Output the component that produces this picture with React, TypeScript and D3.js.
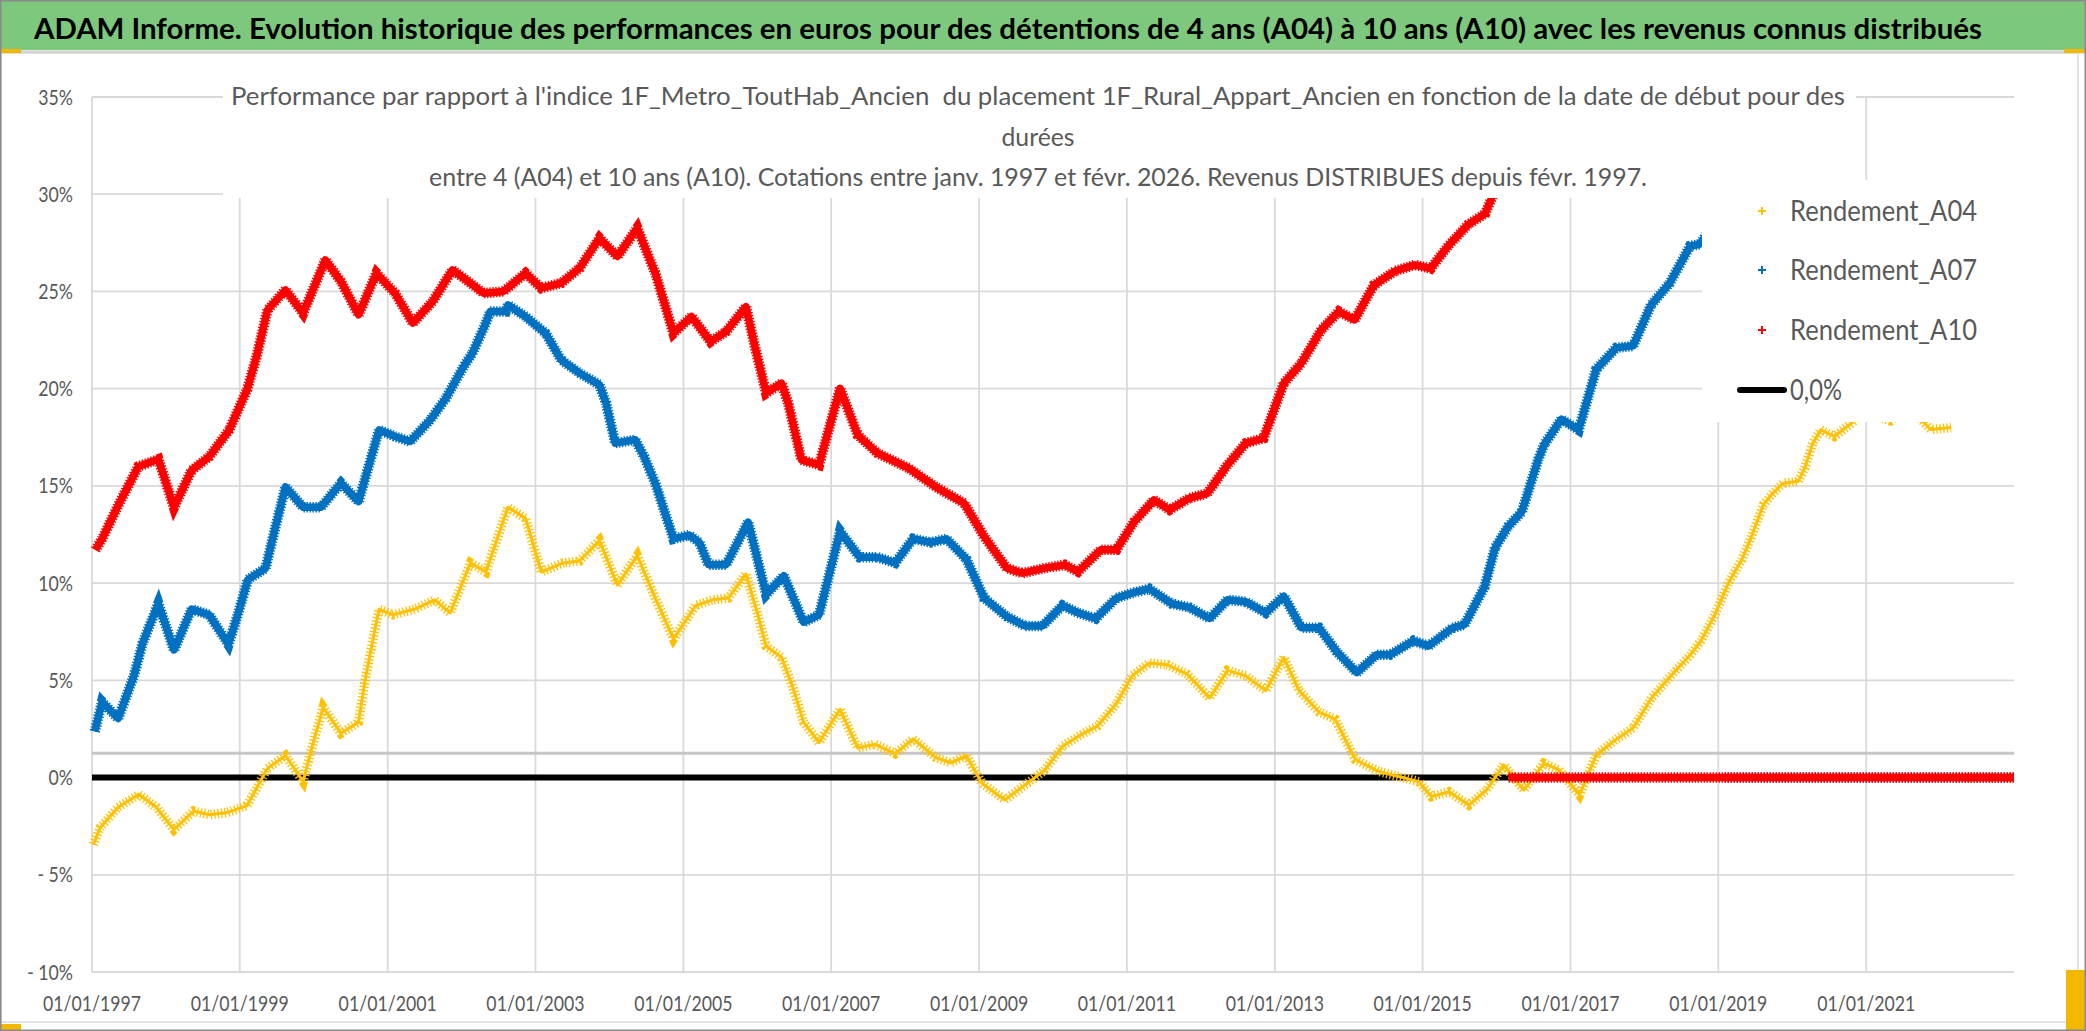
import React from "react";
import * as d3 from "d3";

const W = 2086;
const H = 1031;

const TITLE = "ADAM Informe. Evolution historique des performances en euros pour des détentions de 4 ans (A04) à 10 ans (A10) avec les revenus connus distribués";
const SUBTITLE = [
  "Performance par rapport à l'indice 1F_Metro_ToutHab_Ancien  du placement 1F_Rural_Appart_Ancien en fonction de la date de début pour des",
  "durées",
  "entre 4 (A04) et 10 ans (A10). Cotations entre janv. 1997 et févr. 2026. Revenus DISTRIBUES depuis févr. 1997.",
];
const SERIES_NAMES = ["Rendement_A04", "Rendement_A07", "Rendement_A10"];
const ZERO_NAME = "0,0%";

const X_TICKS = ["1997-01-01", "1999-01-01", "2001-01-01", "2003-01-01", "2005-01-01", "2007-01-01", "2009-01-01", "2011-01-01", "2013-01-01", "2015-01-01", "2017-01-01", "2019-01-01", "2021-01-01"];
const Y_TICKS = [-10, -5, 0, 5, 10, 15, 20, 25, 30, 35];
const X_DOMAIN = ["1997-01-01", "2023-01-01"];
const Y_DOMAIN = [-10, 35];
const ZERO_VALUE = 0;
const GRAY_LEVEL = 1.25;

type Pt = [string, number | null];

const A04: Pt[] = [
  ["1997-01-08", -3.44], ["1997-02-10", -2.58], ["1997-05-10", -1.53], ["1997-08-20", -0.86], ["1997-11-15", -1.53],
  ["1998-02-10", -2.68], ["1998-05-18", -1.72], ["1998-08-03", -1.91], ["1998-10-30", -1.8], ["1999-02-06", -1.44],
  ["1999-05-18", 0.47], ["1999-08-15", 1.13], ["1999-11-10", -0.2], ["1999-12-25", 1.6], ["2000-02-17", 3.61],
  ["2000-05-15", 2.28], ["2000-08-10", 2.85], ["2000-09-12", 5.04], ["2000-11-06", 8.0], ["2000-11-20", 8.66],
  ["2001-01-26", 8.37], ["2001-05-15", 8.66], ["2001-08-22", 9.14], ["2001-11-06", 8.47], ["2002-02-14", 11.04],
  ["2002-05-01", 10.57], ["2002-08-18", 13.9], ["2002-11-13", 13.33], ["2003-01-30", 10.57], ["2003-05-18", 11.04],
  ["2003-08-07", 11.14], ["2003-11-13", 12.19], ["2004-02-10", 9.9], ["2004-05-18", 11.42], ["2004-08-15", 9.23],
  ["2004-11-13", 7.13], ["2005-03-03", 8.85], ["2005-05-26", 9.14], ["2005-08-11", 9.23], ["2005-11-06", 10.47],
  ["2006-01-01", 8.47], ["2006-02-14", 6.75], ["2006-05-01", 6.18], ["2006-06-25", 4.66], ["2006-08-18", 2.85],
  ["2006-11-02", 1.8], ["2007-02-14", 3.51], ["2007-05-12", 1.52], ["2007-08-07", 1.71], ["2007-11-13", 1.23],
  ["2008-02-10", 1.99], ["2008-05-30", 1.04], ["2008-08-15", 0.75], ["2008-10-30", 1.13], ["2009-01-15", -0.29],
  ["2009-05-08", -1.15], ["2009-08-15", -0.39], ["2009-11-20", 0.37], ["2010-02-17", 1.61], ["2010-05-15", 2.18],
  ["2010-08-10", 2.66], ["2010-11-10", 3.8], ["2011-01-26", 5.23], ["2011-04-22", 5.89], ["2011-07-20", 5.8],
  ["2011-10-26", 5.32], ["2012-02-14", 4.09], ["2012-05-12", 5.51], ["2012-08-11", 5.23], ["2012-11-17", 4.47],
  ["2013-02-14", 6.18], ["2013-05-01", 4.47], ["2013-08-07", 3.37], ["2013-10-26", 3.0], ["2014-02-03", 0.92],
  ["2014-05-26", 0.33], ["2014-08-18", 0.09], ["2014-10-12", -0.04], ["2014-12-13", -0.21], ["2015-02-14", -0.98],
  ["2015-05-12", -0.73], ["2015-08-18", -1.41], ["2015-11-13", -0.64], ["2016-02-06", 0.65], ["2016-05-15", -0.64],
  ["2016-08-22", 0.73], ["2016-11-06", 0.39], ["2017-02-14", -0.9], ["2017-05-08", 1.16], ["2017-08-03", 1.88],
  ["2017-11-06", 2.55], ["2018-02-06", 4.1], ["2018-05-18", 5.3], ["2018-08-15", 6.3], ["2018-10-08", 7.04],
  ["2018-12-13", 8.33], ["2019-02-20", 10.0], ["2019-04-27", 11.2], ["2019-06-14", 12.39], ["2019-08-11", 14.02],
  ["2019-09-20", 14.54], ["2019-11-17", 15.14], ["2020-01-30", 15.22], ["2020-03-03", 15.91], ["2020-04-12", 17.2],
  ["2020-05-22", 17.88], ["2020-07-27", 17.54], ["2020-10-20", 18.22], ["2020-12-13", 18.8], ["2021-03-15", 18.5],
  ["2021-05-01", 18.35], ["2021-07-20", 19.0], ["2021-10-01", 18.4], ["2021-11-15", 17.9], ["2022-02-24", 18.0],
  ["2022-03-01", null],
  ["2022-03-15", 0], ["2022-06-15", 0], ["2022-09-15", 0], ["2022-12-31", 0],
];

const A07: Pt[] = [
  ["1997-01-15", 2.37], ["1997-02-20", 3.89], ["1997-05-10", 3.04], ["1997-07-27", 5.23], ["1997-09-09", 6.94],
  ["1997-11-25", 8.94], ["1998-02-10", 6.56], ["1998-05-08", 8.66], ["1998-08-03", 8.37], ["1998-11-06", 6.85],
  ["1998-12-25", 8.47], ["1999-02-10", 10.18], ["1999-05-08", 10.76], ["1999-06-21", 12.66], ["1999-08-15", 14.95],
  ["1999-11-10", 13.9], ["2000-02-06", 13.9], ["2000-05-15", 15.14], ["2000-08-10", 14.19], ["2000-10-04", 16.2],
  ["2000-11-20", 17.88], ["2001-02-06", 17.54], ["2001-04-22", 17.28], ["2001-07-31", 18.4], ["2001-10-15", 19.5],
  ["2002-01-11", 21.14], ["2002-02-24", 21.83], ["2002-05-01", 23.37], ["2002-05-22", 23.97], ["2002-08-07", 23.97],
  ["2002-08-18", 24.31], ["2002-11-13", 23.71], ["2003-02-20", 22.85], ["2003-05-08", 21.48], ["2003-08-07", 20.8],
  ["2003-11-13", 20.2], ["2003-12-16", 19.25], ["2004-01-30", 17.2], ["2004-05-08", 17.37], ["2004-06-21", 16.5],
  ["2004-08-15", 15.14], ["2004-11-13", 12.28], ["2005-01-30", 12.47], ["2005-03-21", 12.09], ["2005-05-05", 10.95],
  ["2005-07-31", 10.95], ["2005-11-17", 13.14], ["2006-02-14", 9.42], ["2006-05-12", 10.38], ["2006-08-18", 7.99],
  ["2006-11-02", 8.37], ["2007-02-14", 12.66], ["2007-05-22", 11.33], ["2007-08-18", 11.33], ["2007-11-13", 11.04],
  ["2008-02-10", 12.28], ["2008-05-08", 12.09], ["2008-07-24", 12.28], ["2008-10-30", 11.23], ["2009-01-26", 9.23],
  ["2009-05-18", 8.28], ["2009-08-15", 7.8], ["2009-11-10", 7.8], ["2010-02-17", 8.85], ["2010-05-05", 8.47],
  ["2010-07-31", 8.18], ["2010-11-10", 9.23], ["2011-02-06", 9.52], ["2011-04-22", 9.71], ["2011-08-11", 8.94],
  ["2011-11-06", 8.75], ["2012-02-14", 8.18], ["2012-05-12", 9.14], ["2012-08-11", 9.04], ["2012-11-17", 8.47],
  ["2013-02-14", 9.33], ["2013-05-12", 7.71], ["2013-08-07", 7.71], ["2013-11-03", 6.47], ["2014-02-10", 5.4],
  ["2014-05-18", 6.31], ["2014-07-24", 6.31], ["2014-11-17", 7.04], ["2015-01-30", 6.76], ["2015-05-26", 7.68],
  ["2015-07-27", 7.87], ["2015-11-03", 9.8], ["2015-12-25", 11.82], ["2016-02-28", 12.92], ["2016-05-05", 13.66],
  ["2016-07-27", 16.41], ["2016-08-25", 17.15], ["2016-11-17", 18.43], ["2017-02-10", 17.88], ["2017-03-28", 19.53],
  ["2017-05-08", 21.0], ["2017-08-15", 22.1], ["2017-11-06", 22.2], ["2018-02-03", 24.31], ["2018-05-05", 25.41],
  ["2018-08-15", 27.34], ["2018-10-01", 27.43], ["2018-12-13", 28.5], ["2019-01-20", 29.0],
  ["2019-01-25", null],
  ["2019-02-01", 0], ["2020-01-01", 0], ["2021-01-01", 0], ["2022-01-01", 0], ["2022-12-31", 0],
];

const A10: Pt[] = [
  ["1997-01-18", 11.71], ["1997-02-20", 12.28], ["1997-05-10", 13.99], ["1997-08-18", 16.0], ["1997-11-25", 16.37],
  ["1998-02-10", 13.9], ["1998-05-08", 15.8], ["1998-08-03", 16.5], ["1998-11-10", 17.88], ["1999-02-06", 19.94],
  ["1999-03-25", 21.65], ["1999-05-18", 24.05], ["1999-08-15", 25.08], ["1999-11-10", 23.88], ["2000-02-28", 26.62],
  ["2000-05-15", 25.51], ["2000-08-10", 23.8], ["2000-11-06", 25.94], ["2001-02-06", 24.91], ["2001-05-05", 23.37],
  ["2001-08-11", 24.48], ["2001-11-17", 26.11], ["2002-02-03", 25.51], ["2002-04-20", 24.91], ["2002-07-27", 25.0],
  ["2002-11-13", 25.94], ["2003-01-30", 25.17], ["2003-05-08", 25.43], ["2003-08-07", 26.2], ["2003-11-13", 27.74],
  ["2004-02-10", 26.8], ["2004-05-18", 28.26], ["2004-08-15", 25.94], ["2004-11-13", 22.85], ["2005-02-10", 23.71],
  ["2005-05-15", 22.42], ["2005-07-31", 22.94], ["2005-11-06", 24.22], ["2005-12-20", 22.17], ["2006-02-14", 19.77],
  ["2006-05-01", 20.28], ["2006-06-03", 19.25], ["2006-08-07", 16.34], ["2006-11-02", 16.08], ["2007-02-14", 20.02],
  ["2007-05-12", 17.62], ["2007-08-18", 16.68], ["2008-01-19", 15.91], ["2008-05-30", 14.96], ["2008-10-19", 14.11],
  ["2009-01-26", 12.39], ["2009-05-18", 10.77], ["2009-08-03", 10.51], ["2009-11-20", 10.77], ["2010-02-28", 10.94],
  ["2010-05-05", 10.59], ["2010-08-25", 11.71], ["2010-11-10", 11.71], ["2011-02-06", 13.16], ["2011-05-15", 14.28],
  ["2011-07-31", 13.77], ["2011-11-06", 14.37], ["2012-02-03", 14.62], ["2012-05-12", 16.08], ["2012-08-11", 17.2],
  ["2012-11-06", 17.45], ["2013-02-14", 20.28], ["2013-05-12", 21.31], ["2013-08-18", 23.02], ["2013-11-13", 23.97],
  ["2014-01-30", 23.54], ["2014-05-05", 25.32], ["2014-08-18", 26.05], ["2014-11-24", 26.37], ["2015-02-10", 26.18],
  ["2015-05-08", 27.35], ["2015-08-15", 28.45], ["2015-11-06", 29.0], ["2015-12-09", 29.82], ["2016-01-20", 30.8],
  ["2016-02-01", null],
  ["2016-03-01", 0], ["2017-01-01", 0], ["2018-01-01", 0], ["2019-01-01", 0], ["2020-01-01", 0],
  ["2021-01-01", 0], ["2022-01-01", 0], ["2022-12-31", 0],
];

const COLORS = ["#FFC000", "#0070C0", "#FF0000"];
const TEXT_GRAY = "#595959";
const GRID = "#d9d9d9";
const FONT = "Lato, 'Open Sans', sans-serif";

const parse = d3.timeParse("%Y-%m-%d");

export default function App() {
  const x = d3.scaleTime()
    .domain(X_DOMAIN.map((s) => parse(s) as Date))
    .range([92, 2014]);
  const y = d3.scaleLinear().domain(Y_DOMAIN).range([972, 97]);

  const line = d3.line<Pt>()
    .defined((d) => d[1] !== null)
    .x((d) => x(parse(d[0]) as Date))
    .y((d) => y(d[1] as number));

  const xr = x.range();
  const yr = y.range();
  const fmtDate = d3.timeFormat("%d/%m/%Y");
  const fmtPct = (v: number) => (v < 0 ? "- " + Math.abs(v) + "%" : v + "%");

  const series = [A04, A07, A10];
  const styles = [
    { core: 3, comb: 9.5, dash: "1.3 2.2" },
    { core: 7.5, comb: 10.5, dash: "1.4 1.6" },
    { core: 7.5, comb: 10.5, dash: "1.4 1.6" },
  ];

  const legendY = [211, 270, 330];

  return (
    <svg width={W} height={H} viewBox={`0 0 ${W} ${H}`} style={{ position: "absolute", left: 0, top: 0, background: "#fff" }}>
      <rect x={0} y={0} width={W} height={H} fill="#fff" />
      {/* title bar */}
      <rect x={0} y={0} width={W} height={50} fill="#7EC87E" />
      <line x1={0} x2={W} y1={52} y2={52} stroke="#d0d0d0" strokeWidth={3} />
      <text x={34} y={39} fontFamily={FONT} fontWeight="bold" fontSize={29} fill="#000" textLength={1948} lengthAdjust="spacingAndGlyphs">{TITLE}</text>

      {/* chart area frame */}
      <rect x={1} y={53} width={2077} height={969} fill="none" stroke={GRID} strokeWidth={1.5} />

      {/* gridlines */}
      {Y_TICKS.map((v) => (
        <line key={"gy" + v} x1={xr[0]} x2={xr[1]} y1={y(v)} y2={y(v)} stroke={GRID} strokeWidth={1.8} />
      ))}
      {X_TICKS.map((s) => {
        const xv = x(parse(s) as Date);
        return <line key={"gx" + s} x1={xv} x2={xv} y1={yr[1]} y2={yr[0]} stroke={GRID} strokeWidth={1.8} />;
      })}

      {/* gray level line */}
      <line x1={xr[0]} x2={xr[1]} y1={y(GRAY_LEVEL)} y2={y(GRAY_LEVEL)} stroke="#c6c6c6" strokeWidth={3.2} />

      {/* 0% black line */}
      <line x1={xr[0]} x2={xr[1]} y1={y(ZERO_VALUE)} y2={y(ZERO_VALUE)} stroke="#000" strokeWidth={6} />

      {/* series */}
      {series.map((data, i) => {
        const d = line(data) || "";
        const st = styles[i];
        return (
          <g key={"s" + i}>
            <path d={d} fill="none" stroke={COLORS[i]} strokeWidth={st.core} strokeLinejoin="round" />
            <path d={d} fill="none" stroke={COLORS[i]} strokeWidth={st.comb} strokeDasharray={st.dash} />
          </g>
        );
      })}

      {/* subtitle box */}
      <rect x={223} y={62} width={1633} height={136} fill="#fff" />
      {SUBTITLE.map((t, i) => (
        <text key={"st" + i} x={1038} y={[105, 146, 186][i]} textAnchor="middle" fontFamily={FONT} fontSize={25.5} fill={TEXT_GRAY}
          textLength={[1614, 73, 1218][i]} lengthAdjust="spacingAndGlyphs" style={{ whiteSpace: "pre" }}>{t}</text>
      ))}

      {/* legend */}
      <rect x={1702} y={180} width={313} height={242} fill="#fff" />
      {SERIES_NAMES.map((n, i) => (
        <g key={"lg" + i}>
          <path d={`M${1758},${legendY[i]}H${1766}M${1762},${legendY[i] - 4}V${legendY[i] + 4}`} stroke={COLORS[i]} strokeWidth={2} />
          <text x={1790} y={legendY[i] + 9.5} fontFamily={FONT} fontSize={28} fill={TEXT_GRAY} textLength={187} lengthAdjust="spacingAndGlyphs">{n}</text>
        </g>
      ))}
      <line x1={1740} x2={1784} y1={390} y2={390} stroke="#000" strokeWidth={6} strokeLinecap="round" />
      <text x={1790} y={400} fontFamily={FONT} fontSize={28} fill={TEXT_GRAY} textLength={52} lengthAdjust="spacingAndGlyphs">{ZERO_NAME}</text>

      {/* y tick labels */}
      {Y_TICKS.map((v) => (
        <text key={"ty" + v} transform={`translate(73,${y(v) + 7.5}) scale(0.86,1)`} textAnchor="end" fontFamily={FONT} fontSize={20.6} fill={TEXT_GRAY}>{fmtPct(v)}</text>
      ))}
      {/* x tick labels */}
      {X_TICKS.map((s) => {
        const dt = parse(s) as Date;
        return (
          <text key={"tx" + s} transform={`translate(${x(dt)},1011) scale(0.86,1)`} textAnchor="middle" fontFamily={FONT} fontSize={20.6} fill={TEXT_GRAY}>{fmtDate(dt)}</text>
        );
      })}

      {/* selection handles */}
      <rect x={0} y={49} width={21} height={4} fill="#F2B800" />
      <rect x={2064} y={49} width={22} height={4} fill="#F2B800" />
      <rect x={0} y={1024} width={21} height={7} fill="#F2B800" />
      <rect x={2066} y={970} width={20} height={61} fill="#F2B800" />

      {/* outer border */}
      <rect x={0.75} y={0.75} width={W - 1.5} height={H - 1.5} fill="none" stroke="#8a8a8a" strokeWidth={1.5} />
    </svg>
  );
}
